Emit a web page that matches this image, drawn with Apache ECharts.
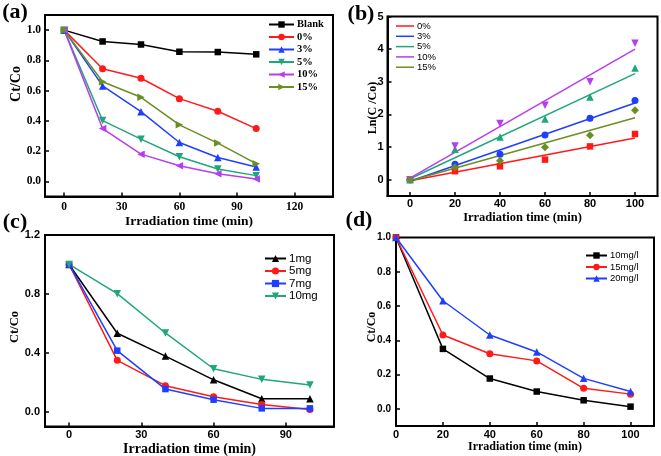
<!DOCTYPE html>
<html>
<head>
<meta charset="utf-8">
<script src="https://cdn.jsdelivr.net/npm/echarts@6/dist/echarts.min.js"></script>
<style>html,body{margin:0;padding:0;background:#fff;}#c{width:661px;height:456px;}</style>
</head>
<body>
<div id="c"></div>
<script>
// ---- data ----
const timeX = [0, 20, 40, 60, 80, 100];
// panel (a)
const aBlank = [1.0, 0.925, 0.905, 0.857, 0.855, 0.84];
const a0 = [1.0, 0.745, 0.682, 0.547, 0.464, 0.349];
const a3 = [1.0, 0.631, 0.461, 0.257, 0.158, 0.095];
const a5 = [1.0, 0.402, 0.279, 0.163, 0.082, 0.038];
const a10 = [1.0, 0.349, 0.18, 0.103, 0.051, 0.016];
const a15 = [1.0, 0.659, 0.556, 0.374, 0.253, 0.117];
// panel (b) points
const b0 = [0, 0.26, 0.41, 0.615, 1.02, 1.40];
const b3 = [0, 0.47, 0.78, 1.37, 1.88, 2.43];
const b5 = [0, 0.93, 1.31, 1.86, 2.53, 3.42];
const b10 = [0, 1.03, 1.72, 2.28, 3.0, 4.18];
const b15 = [0, 0.38, 0.58, 0.99, 1.36, 2.13];
// panel (b) fit lines (endpoints)
const fitX = [0, 100];
const fit0 = [-0.03, 1.28];
const fit3 = [-0.05, 2.35];
const fit5 = [0.03, 3.25];
const fit10 = [0.05, 4.0];
const fit15 = [-0.03, 1.9];
// panel (c)
const c1 = [1.0, 0.533, 0.378, 0.217, 0.088, 0.088];
const c5 = [1.0, 0.349, 0.177, 0.102, 0.05, 0.016];
const c7 = [1.0, 0.415, 0.154, 0.082, 0.023, 0.023];
const c10 = [1.0, 0.802, 0.535, 0.292, 0.22, 0.181];
// panel (d)
const d10 = [1.0, 0.35, 0.177, 0.101, 0.05, 0.013];
const d15 = [1.0, 0.431, 0.322, 0.28, 0.12, 0.086];
const d20 = [1.0, 0.631, 0.431, 0.332, 0.178, 0.101];
// tick labels
const aXTicks = [0, 30, 60, 90, 120];
const aYTicks = [0, 0.2, 0.4, 0.6, 0.8, 1.0];
const bXTicks = [0, 20, 40, 60, 80, 100];
const bYTicks = [0, 1, 2, 3, 4, 5];
const cXTicks = [0, 30, 60, 90];
const cYTicks = [0, 0.4, 0.8, 1.2];
const dXTicks = [0, 20, 40, 60, 80, 100];
const dYTicks = [0, 0.2, 0.4, 0.6, 0.8, 1.0];

// ---- styling ----
const SERIF = 'Liberation Serif';
const SANS = 'Liberation Sans';
const RED = '#ff1a1a', BLUE = '#1f3fff', GREEN = '#1fa67a', PURPLE = '#b83cf0', OLIVE = '#6b8e23', BLACK = '#000000';

function pairs(xs, ys) { return xs.map((x, i) => [x, ys[i]]); }

function xAxis(gi, min, max, ticks, font, size, margin, titleSize, titleGap) {
  return {
    type: 'value', gridIndex: gi, min: min, max: max,
    name: 'Irradiation time (min)', nameLocation: 'middle', nameGap: titleGap,
    nameTextStyle: { fontFamily: SERIF, fontWeight: 'bold', fontSize: titleSize, color: '#000' },
    axisLine: { show: true, onZero: false, lineStyle: { color: '#000', width: 2 } },
    axisTick: { show: true, inside: true, length: 4, customValues: ticks, lineStyle: { color: '#000', width: 1.5 } },
    axisLabel: { customValues: ticks, margin: margin, fontFamily: font, fontWeight: 'bold', fontSize: size, color: '#000' },
    splitLine: { show: false }
  };
}
function yAxis(gi, min, max, ticks, font, size, margin, fmt) {
  return {
    type: 'value', gridIndex: gi, min: min, max: max,
    axisLine: { show: true, onZero: false, lineStyle: { color: '#000', width: 2 } },
    axisTick: { show: true, inside: true, length: 4, customValues: ticks, lineStyle: { color: '#000', width: 1.5 } },
    axisLabel: { customValues: ticks, margin: margin, fontFamily: font, fontWeight: 'bold', fontSize: size, color: '#000', formatter: fmt },
    splitLine: { show: false }
  };
}
const f1 = v => Number(v).toFixed(1);
const f0 = v => String(Math.round(v));

function lineS(name, gi, ys, color, symbol, rot, size) {
  return {
    type: 'line', name: name, xAxisIndex: gi, yAxisIndex: gi,
    data: pairs(timeX, ys), symbol: symbol, symbolRotate: rot || 0, symbolSize: size || 7,
    showSymbol: true, color: color,
    lineStyle: { color: color, width: 1.5 }, itemStyle: { color: color },
    animation: false, z: 3
  };
}
function fitS(name, gi, ys, color) {
  return {
    type: 'line', name: name, xAxisIndex: gi, yAxisIndex: gi,
    data: pairs(fitX, ys), symbol: 'none', showSymbol: false, color: color,
    lineStyle: { color: color, width: 1.5 }, itemStyle: { color: color }, animation: false, z: 2
  };
}
function scatS(name, gi, ys, color, symbol, rot, size) {
  return {
    type: 'scatter', name: name, xAxisIndex: gi, yAxisIndex: gi,
    data: pairs(timeX, ys), symbol: symbol, symbolRotate: rot || 0, symbolSize: size || 7,
    itemStyle: { color: color, opacity: 1 }, animation: false, z: 3
  };
}
const strip = n => n.slice(2);
function legend(names, left, top, iw, ih, gap, font, size, bold, icon) {
  const l = {
    orient: 'vertical', left: left, top: top, itemWidth: iw, itemHeight: ih, itemGap: gap,
    selectedMode: false, data: names, formatter: strip, padding: 0,
    textStyle: { fontFamily: font, fontSize: size, fontWeight: bold ? 'bold' : 'normal', color: '#000', padding: [0, 0, 0, -2] }
  };
  if (icon) l.icon = icon;
  return l;
}

const grids = [
  { left: 45, top: 15, width: 288, height: 181.5 },
  { left: 387.5, top: 16.5, width: 270, height: 179.5 },
  { left: 45, top: 235, width: 289, height: 191.5 },
  { left: 396, top: 237.5, width: 258, height: 188.5 }
].map(g => Object.assign({ show: true, borderColor: '#000', borderWidth: 2, backgroundColor: 'transparent', containLabel: false, outerBoundsMode: 'none' }, g));

function textG(txt, x, y, size, rot, font) {
  return {
    type: 'text', x: x, y: y, rotation: rot || 0,
    style: { text: txt, fontFamily: font || SERIF, fontWeight: 'bold', fontSize: size, fill: '#000', textAlign: 'center', textVerticalAlign: 'middle' }
  };
}

const option = {
  backgroundColor: '#fff',
  animation: false,
  grid: grids,
  xAxis: [
    xAxis(0, -10, 140, aXTicks, SERIF, 11.5, 5, 13.5, 16),
    xAxis(1, -10, 110, bXTicks, SANS, 11, 2, 12.5, 15),
    xAxis(2, -10, 110, cXTicks, SANS, 11, 3, 14, 16),
    xAxis(3, 0, 110, dXTicks, SANS, 11, 3, 12, 15)
  ],
  yAxis: [
    yAxis(0, -0.1, 1.1, aYTicks, SERIF, 11.5, 4, f1),
    yAxis(1, -0.5, 5, bYTicks, SANS, 11, 4, f0),
    yAxis(2, -0.1, 1.2, cYTicks, SANS, 11, 5, f1),
    yAxis(3, -0.1, 1.0, dYTicks, SANS, 10, 5, f1)
  ],
  legend: [
    legend(['a:Blank', 'a:0%', 'a:3%', 'a:5%', 'a:10%', 'a:15%'], 268, 19, 25, 8, 1.5, SERIF, 10.5, true),
    legend(['b:0%', 'b:3%', 'b:5%', 'b:10%', 'b:15%'], 396, 21, 18, 1.5, 0.3, SANS, 9.5, false, 'rect'),
    legend(['c:1mg', 'c:5mg', 'c:7mg', 'c:10mg'], 264, 252.5, 21, 9, 0.5, SANS, 11.5, false),
    legend(['d:10mg/l', 'd:15mg/l', 'd:20mg/l'], 585, 250.5, 21, 8, 1.5, SANS, 9.5, false)
  ],
  graphic: [
    textG('(a)', 15, 12, 22),
    textG('(b)', 361, 14, 22),
    textG('(c)', 15, 222, 22),
    textG('(d)', 359, 220, 22),
    textG('Ct/Co', 16, 84, 14, Math.PI / 2),
    textG('Ln(C /Co)', 373, 108, 12, Math.PI / 2),
    textG('Ct/Co', 15, 327, 12.5, Math.PI / 2),
    textG('Ct/Co', 372, 327, 12, Math.PI / 2)
  ],
  series: [
    lineS('a:Blank', 0, aBlank, BLACK, 'rect', 0, 6.5),
    lineS('a:0%', 0, a0, RED, 'circle', 0, 7),
    lineS('a:3%', 0, a3, BLUE, 'triangle', 0, 7.5),
    lineS('a:5%', 0, a5, GREEN, 'triangle', 180, 7.5),
    lineS('a:10%', 0, a10, PURPLE, 'triangle', 90, 7.5),
    lineS('a:15%', 0, a15, OLIVE, 'triangle', -90, 7.5),

    fitS('b:0%', 1, fit0, RED),
    fitS('b:3%', 1, fit3, BLUE),
    fitS('b:5%', 1, fit5, GREEN),
    fitS('b:10%', 1, fit10, PURPLE),
    fitS('b:15%', 1, fit15, OLIVE),
    scatS('b-0', 1, b0, RED, 'rect', 0, 6.5),
    scatS('b-3', 1, b3, BLUE, 'circle', 0, 7),
    scatS('b-5', 1, b5, GREEN, 'triangle', 0, 7.5),
    scatS('b-10', 1, b10, PURPLE, 'triangle', 180, 7.5),
    scatS('b-15', 1, b15, OLIVE, 'diamond', 0, 8),

    lineS('c:1mg', 2, c1, BLACK, 'triangle', 0, 7.5),
    lineS('c:5mg', 2, c5, RED, 'circle', 0, 7),
    lineS('c:7mg', 2, c7, BLUE, 'rect', 0, 6.5),
    lineS('c:10mg', 2, c10, GREEN, 'triangle', 180, 7.5),

    lineS('d:10mg/l', 3, d10, BLACK, 'rect', 0, 6.5),
    lineS('d:15mg/l', 3, d15, RED, 'circle', 0, 7),
    lineS('d:20mg/l', 3, d20, BLUE, 'triangle', 0, 7.5)
  ]
};

const chart = echarts.init(document.getElementById('c'), null, { renderer: 'canvas' });
chart.setOption(option);
</script>
</body>
</html>
